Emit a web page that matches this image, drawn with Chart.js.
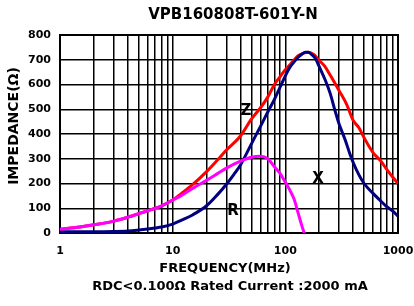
<!DOCTYPE html>
<html><head><meta charset="utf-8">
<script src="https://cdn.jsdelivr.net/npm/chart.js@4/dist/chart.umd.min.js"></script>
<style>html,body{margin:0;padding:0;background:#fff}canvas{display:block}</style>
</head><body>
<canvas id="c" width="414" height="306"></canvas>
<script>
const chartTitle = 'VPB160808T-601Y-N';
const footerText = 'RDC<0.100Ω Rated Current :2000 mA';
const xAxisTitle = 'FREQUENCY(MHz)';
const yAxisTitle = 'IMPEDANCE(Ω)';
const xTickLabels = ['1', '10', '100', '1000'];
const yTickValues = [0, 100, 200, 300, 400, 500, 600, 700, 800];

// Z (red)
const freqZ = [1, 1.5, 2, 3, 4, 5, 6, 7, 8, 10, 12, 15, 20, 25, 30, 40, 50, 60, 70, 80, 90, 100, 110, 120, 130, 140, 160, 180, 200, 225, 250, 300, 350, 400, 450, 500, 600, 700, 800, 900, 1000];
const valZ  = [15, 24, 33, 48, 64, 78, 90, 100, 110, 133, 160, 195, 248, 295, 335, 392, 460, 505, 550, 600, 632, 660, 680, 700, 716, 724, 730, 720, 697, 672, 638, 575, 520, 455, 425, 385, 325, 292, 255, 225, 200];
// X (navy)
const freqX = [1, 2, 3, 4, 5, 6, 7, 8, 10, 12, 15, 20, 25, 30, 35, 40, 50, 60, 70, 80, 90, 100, 110, 120, 130, 140, 150, 160, 170, 185, 200, 225, 250, 275, 300, 340, 375, 400, 450, 500, 600, 700, 800, 900, 1000];
const valX  = [5, 5, 6, 8, 12, 16, 20, 24, 36, 52, 73, 110, 155, 197, 237, 275, 360, 430, 490, 540, 590, 635, 670, 692, 710, 722, 730, 730, 722, 705, 672, 620, 564, 497, 440, 376, 318, 285, 235, 200, 160, 130, 105, 88, 68];
// R (magenta)
const freqR = [1, 1.5, 2, 3, 4, 5, 6, 7, 8, 10, 12, 15, 20, 25, 30, 40, 50, 60, 70, 80, 90, 100, 110, 120, 130, 140, 147];
const valR  = [15, 24, 33, 48, 64, 78, 90, 100, 110, 133, 152, 180, 213, 240, 262, 290, 306, 310, 300, 268, 240, 205, 172, 135, 80, 30, 0];

// curve name labels
const curveNames = ['Z', 'X', 'R'];
const curveNameFreq = [44.7, 195, 34.3];
const curveNameVal = [493, 218, 89];

const gridFreqs = [];
for (const d of [1, 10, 100]) for (let m = 1; m <= 9; m++) gridFreqs.push(m * d);
gridFreqs.push(1000);

const pts = (fs, vs) => fs.map((f, i) => ({x: f, y: vs[i]}));
const FONT = 'DejaVu Sans';

const textPlugin = {
  id: 'texts',
  beforeDatasetsDraw(chart) {
    const {ctx, chartArea: a} = chart;
    ctx.save();
    ctx.strokeStyle = '#000';
    ctx.lineWidth = 2;
    ctx.strokeRect(a.left, a.top, a.right - a.left, a.bottom - a.top);
    ctx.restore();
  },
  afterDraw(chart) {
    const {ctx, scales} = chart;
    ctx.save();
    ctx.fillStyle = '#000';
    ctx.textAlign = 'center';
    ctx.textBaseline = 'middle';
    ctx.font = 'bold 15px "' + FONT + '"';
    ctx.fillText(chartTitle, 233, 15);
    ctx.font = 'bold 13px "' + FONT + '"';
    ctx.fillText(xAxisTitle, 225, 269);
    ctx.font = 'bold 13px "' + FONT + '"';
    ctx.fillText(footerText, 230, 287);
    ctx.save();
    ctx.translate(14, 126);
    ctx.rotate(-Math.PI / 2);
    ctx.font = 'bold 14px "' + FONT + '"';
    ctx.fillText(yAxisTitle, 0, 0);
    ctx.restore();
    ctx.font = 'bold 15px "' + FONT + '"';
    curveNames.forEach((n, i) => {
      ctx.fillText(n, scales.x.getPixelForValue(curveNameFreq[i]), scales.y.getPixelForValue(curveNameVal[i]));
    });
    ctx.restore();
  }
};

new Chart(document.getElementById('c'), {
  type: 'line',
  data: {
    datasets: [
      {label: 'R', data: pts(freqR, valR), borderColor: '#FF00FF', order: 1},
      {label: 'X', data: pts(freqX, valX), borderColor: '#000080', order: 2},
      {label: 'Z', data: pts(freqZ, valZ), borderColor: '#FF0000', order: 3}
    ]
  },
  options: {
    responsive: false,
    animation: false,
    devicePixelRatio: 1,
    layout: {padding: {top: 35, right: 16, left: 0, bottom: 0}},
    elements: {
      point: {radius: 0},
      line: {borderWidth: 3, tension: 0.3, cubicInterpolationMode: 'monotone', fill: false}
    },
    plugins: {legend: {display: false}, tooltip: {enabled: false}, title: {display: false}},
    scales: {
      x: {
        type: 'logarithmic', min: 1, max: 1000,
        afterBuildTicks: s => { s.ticks = gridFreqs.map(v => ({value: v})); },
        afterFit: s => { s.height = 73; s.paddingLeft = 0; s.paddingRight = 0; },
        ticks: {
          autoSkip: false, maxRotation: 0, minRotation: 0, padding: 12, color: '#000',
          font: {family: FONT, size: 11, weight: 'bold'},
          callback: v => xTickLabels.includes(String(v)) ? String(v) : ''
        },
        grid: {color: '#000', lineWidth: 1.5, drawTicks: false},
        border: {color: '#000', width: 2}
      },
      y: {
        type: 'linear', min: 0, max: 800,
        afterBuildTicks: s => { s.ticks = yTickValues.map(v => ({value: v})); },
        afterFit: s => { s.width = 60; s.paddingTop = 0; s.paddingBottom = 0; },
        ticks: {padding: 9, color: '#000', font: {family: FONT, size: 11, weight: 'bold'}},
        grid: {color: '#000', lineWidth: 1.5, drawTicks: false},
        border: {color: '#000', width: 2}
      }
    }
  },
  plugins: [textPlugin]
});
</script>
</body></html>
